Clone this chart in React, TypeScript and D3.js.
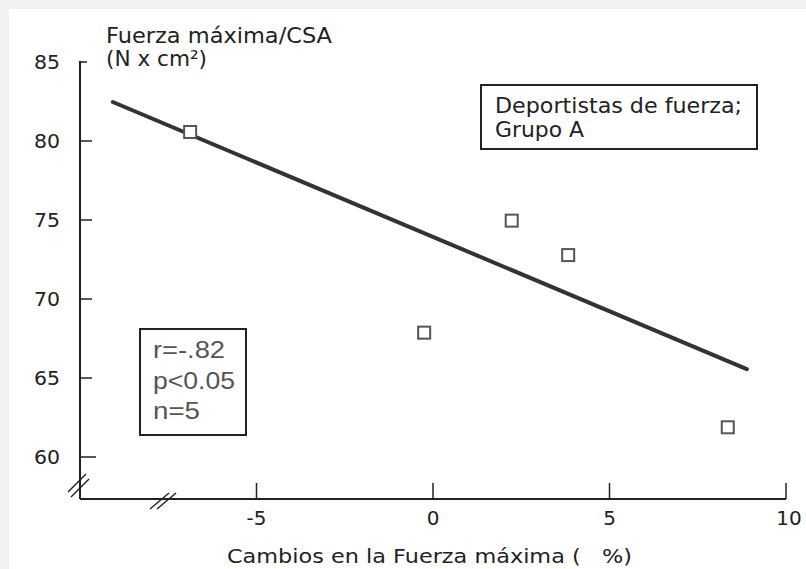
import React from "react";
import * as d3 from "d3";

const W = 806;
const H = 569;

// Data
const pointX = [-6.88, 2.23, 3.83, -0.25, 8.35];
const pointY = [80.57, 74.96, 72.78, 67.87, 61.88];
const lineX = [-9.07, 8.89];
const lineY = [82.47, 65.56];
const xTicks = [-5, 0, 5, 10];
const yTicks = [60, 65, 70, 75, 80, 85];
const yTitle = ["Fuerza máxima/CSA", "(N x cm²)"];
const xTitle = "Cambios en la Fuerza máxima (   %)";
const legendLines = ["Deportistas de fuerza;", "Grupo A"];
const statsLines = ["r=-.82", "p<0.05", "n=5"];

export default function App() {
  const x = d3.scaleLinear().domain([-10, 10]).range([80, 786]);
  const y = d3.scaleLinear().domain([60, 85]).range([457, 62]);
  const axisY = 499;
  const axisX = x(-10);
  const font = "'DejaVu Sans', Verdana, sans-serif";
  const line = d3
    .line<number>()
    .x((d, i) => x(lineX[i]))
    .y((d, i) => y(lineY[i]));

  return (
    <svg
      width={W}
      height={H}
      style={{ position: "absolute", left: 0, top: 0, display: "block" }}
    >
      <rect x={0} y={0} width={W} height={H} fill="#f2f2f2" />
      <rect x={9} y={9} width={W - 9} height={H - 9} fill="#ffffff" />

      {/* axes */}
      <line x1={axisX} y1={y(85) - 1} x2={axisX} y2={axisY} stroke="#222" strokeWidth={2} />
      <line x1={axisX} y1={axisY} x2={x(10)} y2={axisY} stroke="#222" strokeWidth={2} />

      {/* y ticks */}
      {yTicks.map((t) => (
        <g key={"yt" + t}>
          <line
            x1={axisX}
            x2={axisX + (t === 60 ? 16 : t === 85 ? 7 : 12)}
            y1={y(t)}
            y2={y(t)}
            stroke="#222"
            strokeWidth={1.5}
          />
          <text
            x={60}
            y={y(t)}
            dy="0.36em"
            textAnchor="end"
            fontFamily={font}
            fontSize={20}
            fill="#222"
            textLength={26}
            lengthAdjust="spacingAndGlyphs"
          >
            {t}
          </text>
        </g>
      ))}

      {/* x ticks */}
      {xTicks.map((t) => (
        <g key={"xt" + t}>
          <line
            x1={x(t)}
            x2={x(t)}
            y1={axisY}
            y2={axisY - 16}
            stroke="#222"
            strokeWidth={1.5}
          />
          <text
            x={x(t) + (t === 10 ? 3 : 0)}
            y={525}
            textAnchor="middle"
            fontFamily={font}
            fontSize={20}
            fill="#222"
          >
            {t}
          </text>
        </g>
      ))}

      {/* axis breaks */}
      <line x1={axisX - 12} y1={492} x2={axisX + 6} y2={474} stroke="#222" strokeWidth={1.5} />
      <line x1={axisX - 9} y1={497} x2={axisX + 9} y2={479} stroke="#222" strokeWidth={1.5} />
      <line x1={150} y1={509} x2={169} y2={493} stroke="#222" strokeWidth={1.5} />
      <line x1={157} y1={509} x2={176} y2={493} stroke="#222" strokeWidth={1.5} />

      {/* regression line */}
      <path
        d={line([0, 1]) || ""}
        fill="none"
        stroke="#333"
        strokeWidth={4}
        strokeLinecap="round"
      />

      {/* points */}
      {pointX.map((px, i) => (
        <rect
          key={"p" + i}
          x={x(px) - 6}
          y={y(pointY[i]) - 6}
          width={12}
          height={12}
          fill="#fff"
          stroke="#555"
          strokeWidth={2}
        />
      ))}

      {/* y title */}
      <text x={106} y={43} fontFamily={font} fontSize={21} fill="#222" textLength={226} lengthAdjust="spacingAndGlyphs">
        {yTitle[0]}
      </text>
      <text x={106} y={66} fontFamily={font} fontSize={21} fill="#222" textLength={101} lengthAdjust="spacingAndGlyphs">
        {yTitle[1]}
      </text>

      {/* x title */}
      <text
        x={227}
        y={563}
        fontFamily={font}
        fontSize={20}
        fill="#222"
        textLength={405}
        lengthAdjust="spacingAndGlyphs"
        style={{ whiteSpace: "pre" }}
        xmlSpace="preserve"
      >
        {xTitle}
      </text>

      {/* legend box */}
      <rect x={481} y={85} width={276} height={64} fill="#fff" stroke="#222" strokeWidth={2} />
      <text x={495} y={113} fontFamily={font} fontSize={21} fill="#222" textLength={247} lengthAdjust="spacingAndGlyphs">
        {legendLines[0]}
      </text>
      <text x={495} y={137} fontFamily={font} fontSize={21} fill="#222" textLength={89} lengthAdjust="spacingAndGlyphs">
        {legendLines[1]}
      </text>

      {/* stats box */}
      <rect x={140} y={329} width={106} height={106} fill="#fff" stroke="#222" strokeWidth={2} />
      {statsLines.map((s, i) => (
        <text
          key={"s" + i}
          x={153}
          y={[358, 389, 419][i]}
          fontFamily="'Liberation Sans', Arial, sans-serif"
          fontSize={23}
          fill="#555"
          textLength={[72, 82, 47][i]}
          lengthAdjust="spacingAndGlyphs"
        >
          {s}
        </text>
      ))}
    </svg>
  );
}
